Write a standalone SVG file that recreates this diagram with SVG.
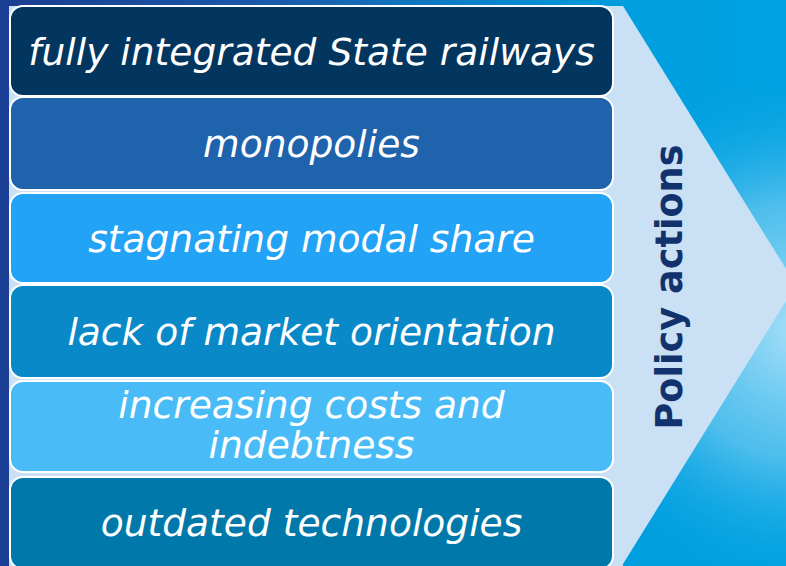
<svg xmlns="http://www.w3.org/2000/svg" width="786" height="566" viewBox="0 0 786 566">
  <defs>
    <linearGradient id="bg" x1="0" y1="0" x2="1" y2="0">
      <stop offset="0" stop-color="#1a3d92"/>
      <stop offset="0.35" stop-color="#1a5aaa"/>
      <stop offset="0.8" stop-color="#009fe0"/>
      <stop offset="1" stop-color="#00a2e2"/>
    </linearGradient>
    <radialGradient id="glow" cx="800" cy="330" r="260" gradientUnits="userSpaceOnUse">
      <stop offset="0" stop-color="#a8e0f8" stop-opacity="1"/>
      <stop offset="0.5" stop-color="#6cc9f1" stop-opacity="0.7"/>
      <stop offset="1" stop-color="#00a0e0" stop-opacity="0"/>
    </radialGradient>
    <style>
      .box { stroke: #ffffff; stroke-width: 2; }
      .lbl { font-family: "DejaVu Sans", Verdana, sans-serif; font-style: italic; font-size: 37.6px; fill: #ffffff; text-anchor: middle; }
      .pa { font-family: "DejaVu Sans", Verdana, sans-serif; font-weight: bold; font-size: 38px; fill: #12326e; text-anchor: middle; }
    </style>
  </defs>
  <rect x="0" y="0" width="786" height="566" fill="url(#bg)"/>
  <rect x="0" y="0" width="786" height="566" fill="url(#glow)"/>
  <rect x="0" y="0" width="9" height="566" fill="#1a3f94"/>
  <g id="chevron">
    <polygon points="9,6 623,6 796,285 623,564 623,566 9,566" fill="#c9e0f5"/>
    <text class="pa" transform="translate(682,287) rotate(-90)" x="0" y="0" textLength="285" lengthAdjust="spacingAndGlyphs">Policy actions</text>
  </g>
  <g id="node1">
    <rect class="box" x="10" y="6" width="603" height="90" rx="13" fill="#03365f"/>
    <text class="lbl" x="311.5" y="65">fully integrated State railways</text>
  </g>
  <g id="node2">
    <rect class="box" x="10" y="97" width="603" height="93" rx="13" fill="#1f63ac"/>
    <text class="lbl" x="311.5" y="157">monopolies</text>
  </g>
  <g id="node3">
    <rect class="box" x="10" y="193" width="603" height="90" rx="13" fill="#22a3f6"/>
    <text class="lbl" x="311.5" y="252">stagnating modal share</text>
  </g>
  <g id="node4">
    <rect class="box" x="10" y="285" width="603" height="93" rx="13" fill="#0a89c8"/>
    <text class="lbl" x="311.5" y="345">lack of market orientation</text>
  </g>
  <g id="node5">
    <rect class="box" x="10" y="381" width="603" height="91" rx="13" fill="#49bcf7"/>
    <text class="lbl" x="311.5" y="418">increasing costs and</text>
    <text class="lbl" x="311.5" y="458">indebtness</text>
  </g>
  <g id="node6">
    <rect class="box" x="10" y="477" width="603" height="92" rx="13" fill="#0079aa"/>
    <text class="lbl" x="311.5" y="536">outdated technologies</text>
  </g>
  <g id="connectors"/>
</svg>
